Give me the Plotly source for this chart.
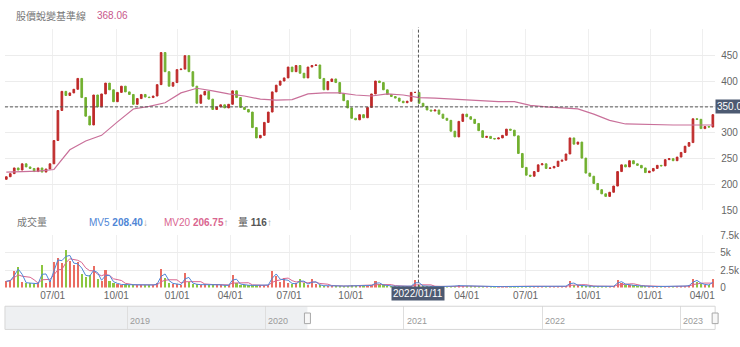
import numpy as np
import pandas as pd
import plotly.graph_objects as go

W, H = 740, 347

# ---------------- data ----------------
HOLIDAYS = [
    "2020-05-01", "2020-06-25", "2020-06-26", "2020-10-01", "2020-10-02", "2020-10-09",
    "2021-01-01", "2021-02-08", "2021-02-09", "2021-02-10", "2021-02-11", "2021-02-12",
    "2021-02-15", "2021-02-16", "2021-03-01", "2021-04-02", "2021-04-05", "2021-04-30",
    "2021-06-14", "2021-09-20", "2021-09-21", "2021-10-11", "2021-12-31",
    "2022-01-27", "2022-01-28", "2022-01-31", "2022-02-01", "2022-02-02", "2022-02-03",
    "2022-02-04", "2022-02-28", "2022-04-04", "2022-04-05", "2022-05-02", "2022-06-03",
    "2022-09-09", "2022-10-10",
    "2023-01-02", "2023-01-18", "2023-01-19", "2023-01-20", "2023-01-23", "2023-01-24",
    "2023-01-25", "2023-01-26", "2023-01-27", "2023-02-27", "2023-02-28",
    "2023-04-03", "2023-04-04", "2023-04-05",
]
START_DATE, END_DATE = "2020-04-21", "2023-04-21"
CROSS_DATE = "2022-01-11"
CROSS_PRICE = 350.0

TICK_DATES = ["2020-07-01", "2020-10-01", "2021-01-01", "2021-04-01", "2021-07-01", "2021-10-01",
              "2022-01-01", "2022-04-01", "2022-07-01", "2022-10-01", "2023-01-01", "2023-04-01"]
# the 2022 "01/01" label sits under the crosshair date box, as in the reference
TICK_TEXT = ["07/01", "10/01", "01/01", "04/01", "07/01", "10/01",
             "", "04/01", "07/01", "10/01", "01/01", "04/01"]

PRICE_TICKS = [150, 200, 250, 300, 350, 400, 450, 500]
# "350" is hidden under the crosshair price box, as in the reference
PRICE_TEXT = ["150", "200", "250", "300", "", "400", "450", ""]
VOL_TICKS = [0, 2500, 5000, 7500]
VOL_TEXT = ["0", "2.5k", "5k", "7.5k"]

NAV_YEARS = ["2019", "2020", "2021", "2022", "2023"]
NAV_RANGE = ["2018-02-12", "2023-04-03"]

FIRST_OPEN = 210
CLOSE = [
    215, 221, 232, 228, 240, 234, 231, 225, 232, 224,
    230, 240, 285, 343, 380, 372, 377, 384, 405, 368,
    332, 315, 373, 350, 375, 396, 383, 360, 378, 390,
    379, 374, 355, 366, 374, 369, 368, 371, 393, 455,
    418, 390, 397, 422, 423, 449, 418, 390, 357, 373,
    380, 365, 345, 350, 354, 348, 355, 381, 368, 349,
    345, 340, 310, 290, 295, 320, 340, 379, 392, 400,
    406, 427, 418, 430, 415, 406, 427, 430, 431, 405,
    383, 399, 404, 397, 376, 362, 348, 328, 325, 335,
    329, 349, 375, 400, 397, 383, 374, 370, 367, 361,
    358, 361, 378, 378, 357, 351, 344, 342, 344, 336,
    328, 324, 303, 292, 322, 336, 331, 326, 318, 304,
    291, 293, 289, 288, 290, 295, 307, 305, 294, 260,
    233, 218, 216, 225, 238, 240, 231, 232, 235, 245,
    247, 259, 290, 278, 282, 251, 222, 216, 202, 190,
    182, 177, 185, 197, 225, 238, 234, 246, 240, 237,
    232, 223, 226, 231, 237, 236, 248, 250, 246, 253,
    262, 274, 281, 327, 326, 308, 312, 311, 335,
]
VOLUME = [
    900, 1100, 2300, 3000, 800, 600, 700, 500, 600, 3200,
    700, 900, 3700, 4200, 3500, 5400, 3800, 3200, 3600, 2000,
    1500, 1800, 3100, 1200, 900, 2500, 1000, 700, 500, 400,
    450, 400, 350, 400, 350, 300, 350, 400, 600, 2600,
    1300, 700, 500, 450, 400, 2100, 800, 500, 450, 400,
    450, 400, 500, 450, 350, 300, 350, 1800, 600, 400,
    350, 330, 300, 350, 300, 350, 400, 2300, 1600, 800,
    1400, 700, 500, 600, 1250, 600, 400, 1150, 500, 300,
    250, 230, 220, 250, 230, 220, 250, 300, 280, 250,
    230, 250, 350, 900, 450, 300, 250, 220, 200, 190,
    180, 170, 250, 1100, 300, 200, 180, 160, 150, 140,
    150, 160, 200, 250, 300, 220, 180, 150, 140, 150,
    180, 160, 140, 130, 130, 140, 150, 140, 160, 200,
    250, 220, 180, 160, 150, 140, 130, 130, 140, 150,
    160, 250, 900, 400, 300, 250, 220, 200, 180, 200,
    200, 180, 170, 200, 1100, 600, 400, 350, 300, 250,
    200, 180, 170, 160, 150, 160, 170, 180, 160, 180,
    200, 250, 300, 1250, 800, 500, 400, 350, 1150,
]
# baseline line, read every 4th candle (plus the last one)
BASELINE = [
    224, 225, 226, 229, 267, 284, 295, 321, 346, 351,
    358, 377, 386, 381, 375, 371, 365, 363, 364, 375,
    377, 377, 373, 371, 375, 373, 368, 367, 365, 363,
    361, 360, 360, 353, 350, 348, 346, 336, 324, 317,
    316, 315, 315, 315, 315, 315,
]

LEGEND_NAME = "股價蛻變基準線"
LEGEND_VALUE = "368.06"
VOL_TITLE = "成交量"
MV5_TEXT, MV20_TEXT, QTY_TEXT = "208.40", "206.75", "116"

# ---------------- styling ----------------
RED = "#bf2a2a"
GREEN = "#72b030"
VRED = "#ea6d62"
VGREEN = "#8cc63f"
PINK = "#c9709a"
BLUE = "#4f86d6"
MVPINK = "#d9658f"
BOXC = "#4d5a72"
FONT = "Liberation Sans, Arial, Noto Sans CJK TC, sans-serif"


def px(x):
    return x / W


def py(y):
    return 1 - y / H


td = pd.bdate_range("2020-04-01", "2023-06-30", freq="C", holidays=HOLIDAYS)


def tix(d):
    return int(td.searchsorted(pd.Timestamp(d)))


N = len(CLOSE)
xs = np.linspace(tix(START_DATE), tix(END_DATE), N)
step = xs[1] - xs[0]
opens = [FIRST_OPEN] + CLOSE[:-1]
highs = [max(o, c) for o, c in zip(opens, CLOSE)]
lows = [min(o, c) for o, c in zip(opens, CLOSE)]
up = [c >= o for o, c in zip(opens, CLOSE)]

t1, t2 = tix(TICK_DATES[0]), tix(TICK_DATES[-1])
ppd = (707 - 53) / (t2 - t1)
x_range = [t1 - (53 - 5) / ppd, t2 + (720 - 707) / ppd]
tickvals = [tix(d) for d in TICK_DATES]
xc = tix(CROSS_DATE)

vol = pd.Series(VOLUME, dtype=float)
mv5 = vol.rolling(2, min_periods=1).mean()
mv20 = vol.rolling(5, min_periods=1).mean()

bidx = list(range(0, N, 4))
if bidx[-1] != N - 1:
    bidx.append(N - 1)
bx = xs[bidx][:len(BASELINE)]

fig = go.Figure()
fig.add_trace(go.Candlestick(
    x=xs, open=opens, high=highs, low=lows, close=CLOSE,
    increasing=dict(line=dict(color=RED, width=1), fillcolor=RED),
    decreasing=dict(line=dict(color=GREEN, width=1), fillcolor=GREEN),
    whiskerwidth=0, hoverinfo="skip", showlegend=False, xaxis="x", yaxis="y"))
fig.add_trace(go.Scatter(x=bx, y=BASELINE[:len(bx)], mode="lines",
                         line=dict(color=PINK, width=1.2), hoverinfo="skip",
                         showlegend=False, xaxis="x", yaxis="y"))
fig.add_trace(go.Bar(x=xs, y=VOLUME, width=step * 0.55,
                     marker=dict(color=[VRED if u else VGREEN for u in up], line=dict(width=0)),
                     hoverinfo="skip", showlegend=False, xaxis="x2", yaxis="y2"))
fig.add_trace(go.Scatter(x=xs, y=mv20, mode="lines", line=dict(color=MVPINK, width=1),
                         hoverinfo="skip", showlegend=False, xaxis="x2", yaxis="y2"))
fig.add_trace(go.Scatter(x=xs, y=mv5, mode="lines", line=dict(color=BLUE, width=1),
                         hoverinfo="skip", showlegend=False, xaxis="x2", yaxis="y2"))

xdom = [px(5), px(720)]
axis_common = dict(showline=False, zeroline=False, ticks="")
fig.update_layout(
    width=W, height=H, margin=dict(l=0, r=0, t=0, b=0),
    paper_bgcolor="white", plot_bgcolor="white",
    font=dict(family=FONT, size=10, color="#666"),
    showlegend=False, boxgap=0.4, bargap=0,
    xaxis=dict(domain=xdom, anchor="y", range=x_range, tickvals=tickvals, ticktext=TICK_TEXT,
               showticklabels=False, showgrid=True, gridcolor="#efefef",
               rangeslider=dict(visible=False), **axis_common),
    xaxis2=dict(domain=xdom, anchor="y2", matches="x", tickvals=tickvals, ticktext=TICK_TEXT,
                showticklabels=True, showgrid=True, gridcolor="#efefef",
                tickfont=dict(size=10, color="#666"), **axis_common),
    yaxis=dict(domain=[py(211.7), py(24.1)], anchor="x", range=[150, 500], side="right",
               tickvals=PRICE_TICKS, ticktext=PRICE_TEXT, showgrid=True, gridcolor="#ececec",
               tickfont=dict(size=10, color="#666"), ticklabelstandoff=5, **axis_common),
    yaxis2=dict(domain=[py(291.7), py(237.3)], anchor="x2", range=[0, 7500], side="right",
                tickvals=VOL_TICKS, ticktext=VOL_TEXT, showgrid=True, gridcolor="#ececec",
                tickfont=dict(size=10, color="#666"), ticklabelstandoff=4, **axis_common),
    xaxis3=dict(domain=xdom, anchor="y3", type="date", range=NAV_RANGE, showgrid=True,
                dtick="M12", tick0="2019-01-01", gridcolor="#dedede", showticklabels=False,
                **axis_common),
    yaxis3=dict(domain=[py(335), py(311)], anchor="x3", range=[0, 1], visible=False),
)

shapes = [
    dict(type="rect", xref="x3", yref="paper", x0=NAV_RANGE[0], x1=START_DATE,
         y0=py(335), y1=py(311), fillcolor="#eef0f2", line=dict(width=0), layer="below"),
    dict(type="rect", xref="paper", yref="paper", x0=px(5), x1=px(720), y0=py(335), y1=py(311),
         fillcolor="rgba(0,0,0,0)", line=dict(color="#d6d6d6", width=1)),
    dict(type="rect", xref="x3", xsizemode="pixel", xanchor=START_DATE, x0=-3, x1=3,
         yref="paper", y0=py(329), y1=py(318), fillcolor="#f7f7f7", line=dict(color="#a8a8a8", width=1)),
    dict(type="rect", xref="paper", x0=px(717), x1=px(723),
         yref="paper", y0=py(329), y1=py(318), fillcolor="#f7f7f7", line=dict(color="#a8a8a8", width=1)),
    dict(type="line", xref="paper", yref="y", x0=px(5), x1=px(720), y0=CROSS_PRICE, y1=CROSS_PRICE,
         line=dict(color="#555", width=1, dash="3px,2px")),
    dict(type="line", xref="x", yref="paper", x0=xc, x1=xc, y0=py(291.7), y1=py(22),
         line=dict(color="#555", width=1, dash="3px,2px")),
]
fig.update_layout(shapes=shapes)

ann = [
    dict(text=LEGEND_NAME, x=px(14), y=py(10), font=dict(size=10, color="#777")),
    dict(text=LEGEND_VALUE, x=px(96), y=py(10), font=dict(size=10, color="#c8578a")),
    dict(text=VOL_TITLE, x=px(15), y=py(224), font=dict(size=10, color="#777")),
    dict(text=f"MV5 <b>{MV5_TEXT}</b><span style='color:#aaa'>↓</span>", x=px(88), y=py(224),
         font=dict(size=10, color=BLUE)),
    dict(text=f"MV20 <b>{MV20_TEXT}</b><span style='color:#aaa'>↑</span>", x=px(163), y=py(224),
         font=dict(size=10, color=MVPINK)),
    dict(text=f"量 <b>{QTY_TEXT}</b><span style='color:#aaa'>↑</span>", x=px(238), y=py(224),
         font=dict(size=10, color="#555")),
]
annotations = [dict(a, xref="paper", yref="paper", xanchor="left", yanchor="middle", showarrow=False)
               for a in ann]
annotations.append(dict(text=f"{CROSS_PRICE:.2f}", xref="paper", yref="y", x=px(720), y=CROSS_PRICE,
                        xanchor="left", yanchor="middle", showarrow=False, bgcolor=BOXC,
                        borderpad=1, font=dict(size=10, color="white")))
annotations.append(dict(text=CROSS_DATE.replace("-", "/"), xref="x", yref="paper", x=xc, y=py(290.5),
                        xanchor="center", yanchor="top", showarrow=False, bgcolor=BOXC,
                        borderpad=1, font=dict(size=10, color="white")))
for yr in NAV_YEARS:
    annotations.append(dict(text=yr, xref="x3", yref="paper", x=f"{yr}-01-01", y=py(334),
                            xanchor="left", yanchor="bottom", xshift=1, showarrow=False,
                            font=dict(size=9, color="#9a9a9a")))
fig.update_layout(annotations=annotations)

fig.write_html("out.html")
